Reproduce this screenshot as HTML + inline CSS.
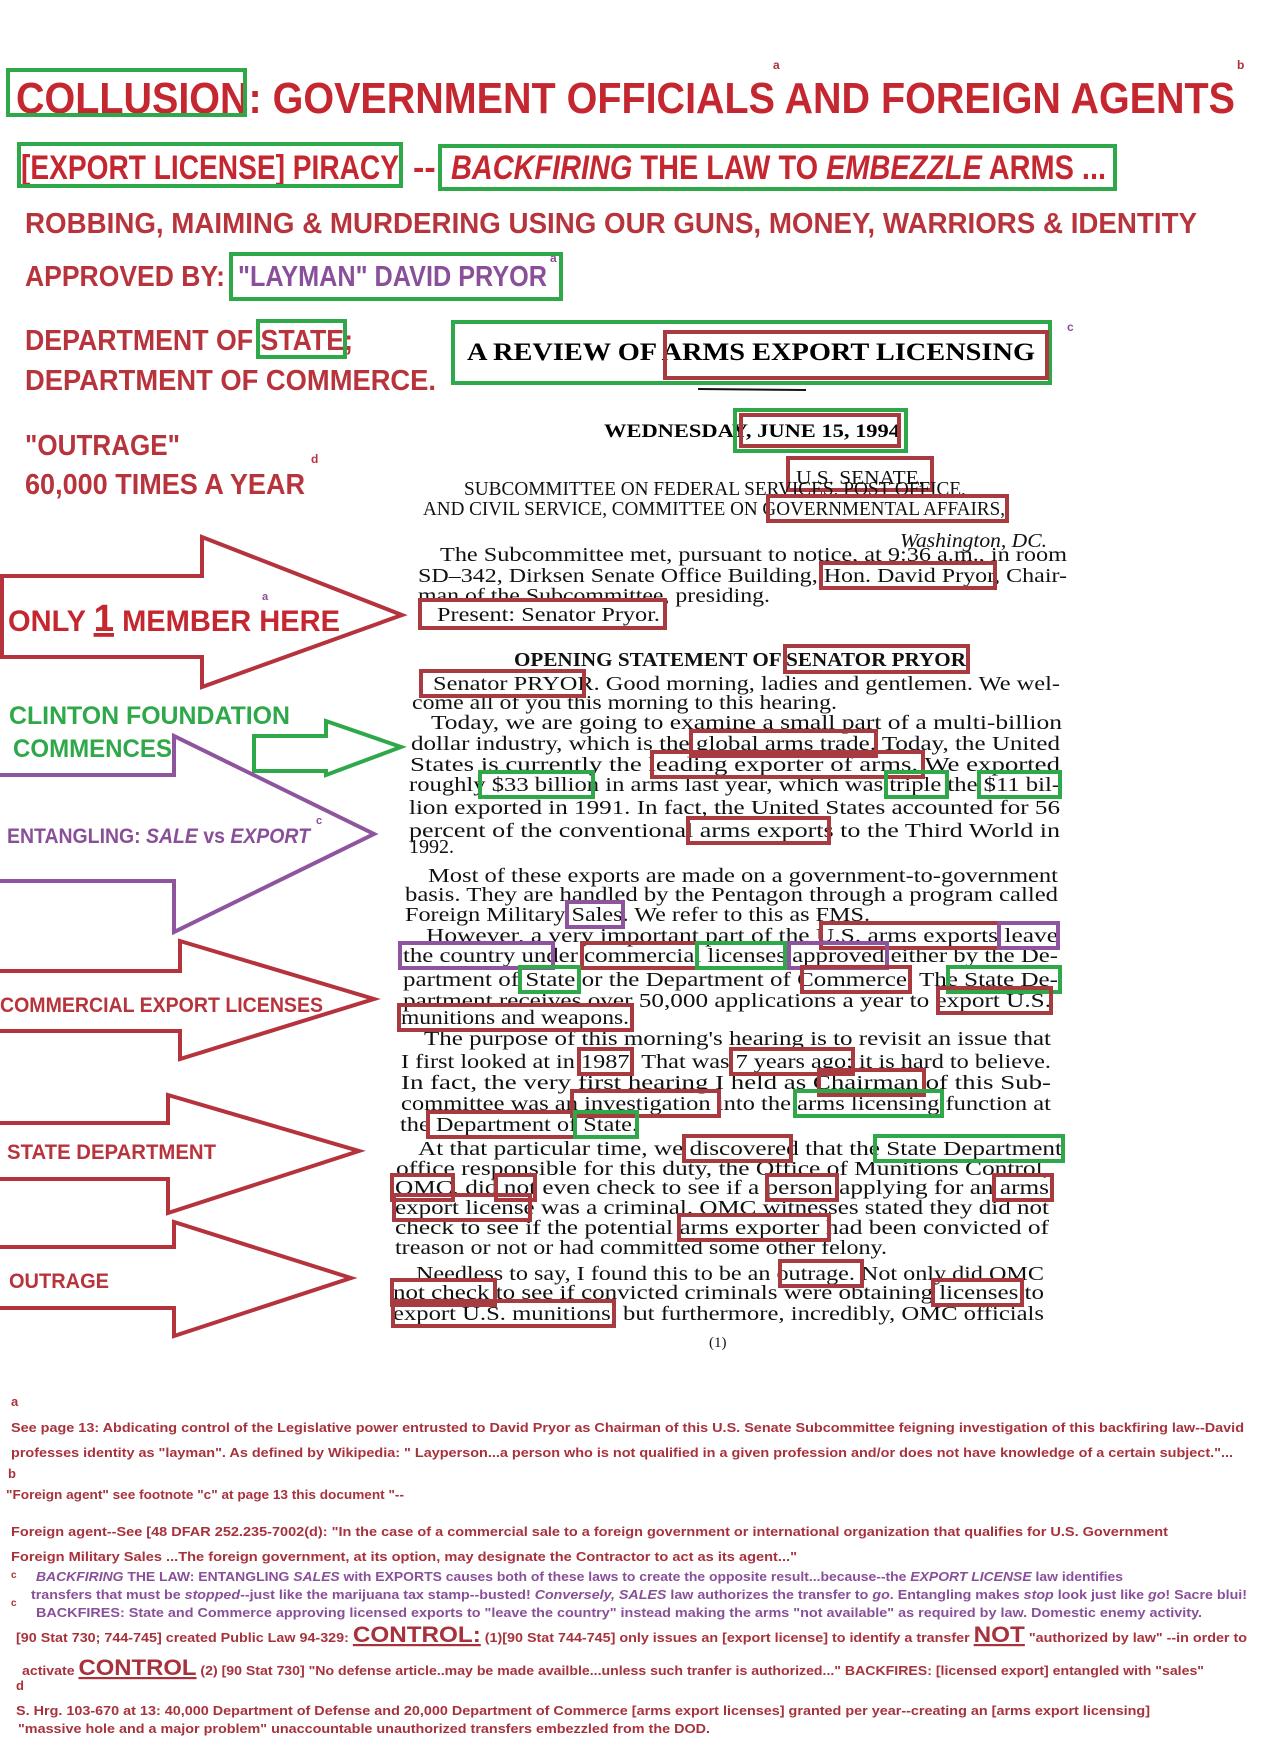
<!DOCTYPE html>
<html><head><meta charset="utf-8"><style>
html,body{margin:0;padding:0;background:#fff}
svg{display:block}
.h{font-family:"Liberation Sans Narrow","Liberation Sans",sans-serif;font-weight:bold}
.s{font-family:"Liberation Serif",serif;font-size:20px;fill:#111}
.f{font-family:"Liberation Sans Narrow","Liberation Sans",sans-serif;font-weight:bold;font-size:13px;fill:#a8323c}
.p{fill:#8a4f9a}
.bx{fill:none;stroke-width:4}
.r{stroke:#a83a40}.g{stroke:#2fa84a}.v{stroke:#8e559e}
</style></head><body>
<svg width="1275" height="1755" viewBox="0 0 1275 1755" xmlns="http://www.w3.org/2000/svg">
<rect width="1275" height="1755" fill="#fff"/>
<g class="h" fill="#c4272f">
<text x="16" y="113" font-size="44" textLength="1219" lengthAdjust="spacingAndGlyphs">COLLUSION: GOVERNMENT OFFICIALS AND FOREIGN AGENTS</text>
<text x="773" y="69" font-size="12" fill="#a8323c">a</text><text x="1237" y="69" font-size="12" fill="#a8323c">b</text>
</g>
<rect class="bx g" x="8" y="70" width="237" height="45"/>
<g class="h" fill="#c4272f" font-size="34">
<text x="21" y="179" textLength="378" lengthAdjust="spacingAndGlyphs">[EXPORT LICENSE] PIRACY</text>
<text x="413" y="179">--</text>
<text x="451" y="179" textLength="655" lengthAdjust="spacingAndGlyphs"><tspan font-style="italic">BACKFIRING</tspan> THE LAW TO <tspan font-style="italic">EMBEZZLE</tspan> ARMS ...</text>
</g>
<rect class="bx g" x="19" y="144" width="382" height="42"/>
<rect class="bx g" x="440" y="146" width="675" height="43"/>
<text class="h" x="25" y="233" font-size="29" fill="#b8343c" textLength="1172" lengthAdjust="spacingAndGlyphs">ROBBING, MAIMING &amp; MURDERING USING OUR GUNS, MONEY, WARRIORS &amp; IDENTITY</text>
<text class="h" x="25" y="286" font-size="29" fill="#b8343c" textLength="200" lengthAdjust="spacingAndGlyphs">APPROVED BY:</text>
<text class="h" x="238" y="286" font-size="29" fill="#8a4f9a" textLength="309" lengthAdjust="spacingAndGlyphs">"LAYMAN" DAVID PRYOR</text>
<text x="550" y="262" class="h" font-size="12" fill="#8a4f9a">a</text>
<rect class="bx g" x="231" y="254" width="330" height="45"/>
<g class="h" font-size="29" fill="#b8343c">
<text x="25" y="350" textLength="328" lengthAdjust="spacingAndGlyphs">DEPARTMENT OF STATE;</text>
<text x="25" y="390" textLength="411" lengthAdjust="spacingAndGlyphs">DEPARTMENT OF COMMERCE.</text>
<text x="25" y="455" textLength="155" lengthAdjust="spacingAndGlyphs">"OUTRAGE"</text>
<text x="25" y="494" textLength="280" lengthAdjust="spacingAndGlyphs">60,000 TIMES A YEAR</text>
<text x="311" y="463" font-size="12">d</text>
</g>
<rect class="bx g" x="258" y="321" width="87" height="36"/>
<rect class="bx g" x="453" y="322" width="597" height="61"/>
<text x="467" y="360" font-family="Liberation Serif,serif" font-weight="bold" font-size="25" textLength="568" lengthAdjust="spacingAndGlyphs">A REVIEW OF ARMS EXPORT LICENSING</text>
<rect class="bx r" x="665" y="332" width="382" height="46"/>
<text x="1067" y="331" class="h" font-size="12" fill="#8a4f9a">c</text>
<line x1="698" y1="389" x2="806" y2="390" stroke="#111" stroke-width="2"/>
<text x="604" y="437" font-family="Liberation Serif,serif" font-weight="bold" font-size="19" textLength="296" lengthAdjust="spacingAndGlyphs">WEDNESDAY, JUNE 15, 1994</text>
<rect class="bx g" x="735" y="410" width="171" height="41"/><rect class="bx r" x="741" y="415" width="158" height="31" stroke-width="3"/>
<text x="796" y="484" class="s" font-size="19" textLength="128" lengthAdjust="spacingAndGlyphs">U.S. SENATE,</text>
<rect class="bx r" x="788" y="458" width="144" height="32"/>
<g class="s">
<text x="464" y="495" textLength="502" lengthAdjust="spacingAndGlyphs">SUBCOMMITTEE ON FEDERAL SERVICES, POST OFFICE,</text>
<text x="423" y="515" textLength="582" lengthAdjust="spacingAndGlyphs">AND CIVIL SERVICE, COMMITTEE ON GOVERNMENTAL AFFAIRS,</text>
<text x="900" y="547" font-style="italic" textLength="147" lengthAdjust="spacingAndGlyphs">Washington, DC.</text>
<text x="440" y="561" textLength="627" lengthAdjust="spacingAndGlyphs">The Subcommittee met, pursuant to notice, at 9:36 a.m., in room</text>
<text x="418" y="582" textLength="649" lengthAdjust="spacingAndGlyphs">SD–342, Dirksen Senate Office Building, Hon. David Pryor, Chair-</text>
<text x="418" y="602" textLength="352" lengthAdjust="spacingAndGlyphs">man of the Subcommittee, presiding.</text>
<text x="437" y="621" textLength="223" lengthAdjust="spacingAndGlyphs">Present: Senator Pryor.</text>
<text x="514" y="666" font-weight="bold" textLength="452" lengthAdjust="spacingAndGlyphs">OPENING STATEMENT OF SENATOR PRYOR</text>
<text x="433" y="690" textLength="627" lengthAdjust="spacingAndGlyphs">Senator PRYOR. Good morning, ladies and gentlemen. We wel-</text>
<text x="412" y="709" textLength="425" lengthAdjust="spacingAndGlyphs">come all of you this morning to this hearing.</text>
<text x="431" y="729" textLength="631" lengthAdjust="spacingAndGlyphs">Today, we are going to examine a small part of a multi-billion</text>
<text x="411" y="750" textLength="649" lengthAdjust="spacingAndGlyphs">dollar industry, which is the global arms trade. Today, the United</text>
<text x="410" y="771" textLength="650" lengthAdjust="spacingAndGlyphs">States is currently the leading exporter of arms. We exported</text>
<text x="409" y="791" textLength="651" lengthAdjust="spacingAndGlyphs">roughly $33 billion in arms last year, which was triple the $11 bil-</text>
<text x="409" y="814" textLength="651" lengthAdjust="spacingAndGlyphs">lion exported in 1991. In fact, the United States accounted for 56</text>
<text x="409" y="837" textLength="651" lengthAdjust="spacingAndGlyphs">percent of the conventional arms exports to the Third World in</text>
<text x="409" y="853">1992.</text>
<text x="428" y="882" textLength="630" lengthAdjust="spacingAndGlyphs">Most of these exports are made on a government-to-government</text>
<text x="405" y="901" textLength="653" lengthAdjust="spacingAndGlyphs">basis. They are handled by the Pentagon through a program called</text>
<text x="405" y="921" textLength="465" lengthAdjust="spacingAndGlyphs">Foreign Military Sales. We refer to this as FMS.</text>
<text x="426" y="942" textLength="632" lengthAdjust="spacingAndGlyphs">However, a very important part of the U.S. arms exports leave</text>
<text x="403" y="962" textLength="655" lengthAdjust="spacingAndGlyphs">the country under commercial licenses approved either by the De-</text>
<text x="403" y="986" textLength="655" lengthAdjust="spacingAndGlyphs">partment of State or the Department of Commerce. The State De-</text>
<text x="403" y="1007" textLength="648" lengthAdjust="spacingAndGlyphs">partment receives over 50,000 applications a year to export U.S.</text>
<text x="401" y="1024" textLength="228" lengthAdjust="spacingAndGlyphs">munitions and weapons.</text>
<text x="424" y="1045" textLength="627" lengthAdjust="spacingAndGlyphs">The purpose of this morning's hearing is to revisit an issue that</text>
<text x="401" y="1068" textLength="650" lengthAdjust="spacingAndGlyphs">I first looked at in 1987. That was 7 years ago; it is hard to believe.</text>
<text x="401" y="1089" textLength="650" lengthAdjust="spacingAndGlyphs">In fact, the very first hearing I held as Chairman of this Sub-</text>
<text x="401" y="1110" textLength="650" lengthAdjust="spacingAndGlyphs">committee was an investigation into the arms licensing function at</text>
<text x="400" y="1131" textLength="238" lengthAdjust="spacingAndGlyphs">the Department of State.</text>
<text x="418" y="1155" textLength="644" lengthAdjust="spacingAndGlyphs">At that particular time, we discovered that the State Department</text>
<text x="396" y="1175" textLength="653" lengthAdjust="spacingAndGlyphs">office responsible for this duty, the Office of Munitions Control,</text>
<text x="395" y="1194" textLength="654" lengthAdjust="spacingAndGlyphs">OMC, did not even check to see if a person applying for an arms</text>
<text x="395" y="1214" textLength="654" lengthAdjust="spacingAndGlyphs">export license was a criminal. OMC witnesses stated they did not</text>
<text x="395" y="1234" textLength="654" lengthAdjust="spacingAndGlyphs">check to see if the potential arms exporter had been convicted of</text>
<text x="395" y="1254" textLength="492" lengthAdjust="spacingAndGlyphs">treason or not or had committed some other felony.</text>
<text x="416" y="1280" textLength="628" lengthAdjust="spacingAndGlyphs">Needless to say, I found this to be an outrage. Not only did OMC</text>
<text x="393" y="1299" textLength="651" lengthAdjust="spacingAndGlyphs">not check to see if convicted criminals were obtaining licenses to</text>
<text x="393" y="1320" textLength="651" lengthAdjust="spacingAndGlyphs">export U.S. munitions, but furthermore, incredibly, OMC officials</text>
<text x="709" y="1347" font-size="15">(1)</text>
</g>
<g>
<rect class="bx r" x="768" y="496" width="239" height="25"/>
<rect class="bx r" x="821" y="563" width="174" height="25"/>
<rect class="bx r" x="420" y="600" width="245" height="28"/>
<rect class="bx r" x="785" y="646" width="183" height="26"/>
<rect class="bx r" x="421" y="671" width="163" height="25"/>
<rect class="bx r" x="691" y="731" width="185" height="25"/>
<rect class="bx r" x="652" y="752" width="271" height="25"/>
<rect class="bx g" x="480" y="772" width="113" height="25"/>
<rect class="bx g" x="886" y="772" width="61" height="25"/>
<rect class="bx g" x="979" y="772" width="81" height="25"/>
<rect class="bx r" x="688" y="818" width="141" height="25"/>
<rect class="bx v" x="567" y="902" width="56" height="25"/>
<rect class="bx r" x="821" y="923" width="178" height="25"/>
<rect class="bx v" x="999" y="923" width="59" height="25"/>
<rect class="bx v" x="400" y="943" width="153" height="25"/>
<rect class="bx r" x="582" y="943" width="115" height="25"/>
<rect class="bx g" x="697" y="943" width="88" height="25"/>
<rect class="bx v" x="789" y="943" width="98" height="25"/>
<rect class="bx g" x="520" y="967" width="59" height="25"/>
<rect class="bx r" x="802" y="967" width="108" height="25"/>
<rect class="bx g" x="948" y="967" width="112" height="25"/>
<rect class="bx r" x="938" y="988" width="113" height="25"/>
<rect class="bx r" x="399" y="1005" width="233" height="25"/>
<rect class="bx r" x="579" y="1049" width="53" height="25"/>
<rect class="bx r" x="731" y="1049" width="122" height="25"/>
<rect class="bx r" x="819" y="1070" width="105" height="25"/>
<rect class="bx r" x="572" y="1091" width="147" height="25"/>
<rect class="bx g" x="795" y="1091" width="147" height="25"/>
<rect class="bx r" x="428" y="1112" width="147" height="25"/>
<rect class="bx g" x="575" y="1112" width="62" height="25"/>
<rect class="bx r" x="684" y="1136" width="107" height="25"/>
<rect class="bx g" x="875" y="1136" width="188" height="25"/>
<rect class="bx r" x="392" y="1175" width="61" height="25"/>
<rect class="bx r" x="496" y="1175" width="39" height="25"/>
<rect class="bx r" x="767" y="1175" width="70" height="25"/>
<rect class="bx r" x="994" y="1175" width="58" height="25"/>
<rect class="bx r" x="394" y="1195" width="136" height="25"/>
<rect class="bx r" x="679" y="1215" width="150" height="25"/>
<rect class="bx r" x="780" y="1261" width="82" height="25"/>
<rect class="bx r" x="392" y="1280" width="103" height="25"/>
<rect class="bx r" x="933" y="1280" width="89" height="25"/>
<rect class="bx r" x="393" y="1301" width="221" height="25"/>
</g>
<g fill="none" stroke-width="4" stroke-linejoin="miter">
<polygon stroke="#b5333d" points="2,576 202,576 202,537 402,615 202,687 202,657 2,657"/>
<polygon stroke="#2fa84a" points="254,736 326,736 326,721 401,747 326,775 326,771 254,771"/>
<polyline stroke="#8e559e" points="0,775 174,775 174,736 374,834 174,932 174,881 0,881"/>
<polyline stroke="#b5333d" points="0,971 180,971 180,941 374,999 180,1059 180,1031 0,1031"/>
<polyline stroke="#b5333d" points="0,1123 168,1123 168,1095 359,1151 168,1213 168,1179 0,1179"/>
<polyline stroke="#b5333d" points="0,1247 174,1247 174,1222 351,1278 174,1336 174,1308 0,1308"/>
</g>
<g class="h">
<text x="8" y="631" font-size="30" fill="#c4272f" textLength="332" lengthAdjust="spacingAndGlyphs">ONLY <tspan text-decoration="underline" font-size="38">1</tspan> MEMBER HERE</text>
<text x="262" y="600" font-size="11" fill="#8a4f9a">a</text>
<text x="9" y="724" font-size="25" fill="#2fa84a" textLength="281" lengthAdjust="spacingAndGlyphs">CLINTON FOUNDATION</text>
<text x="13" y="757" font-size="25" fill="#2fa84a" textLength="159" lengthAdjust="spacingAndGlyphs">COMMENCES</text>
<text x="7" y="843" font-size="21" fill="#8a4f9a" textLength="303" lengthAdjust="spacingAndGlyphs">ENTANGLING: <tspan font-style="italic">SALE</tspan> vs <tspan font-style="italic">EXPORT</tspan></text>
<text x="316" y="824" font-size="11" fill="#8a4f9a">c</text>
<text x="0" y="1012" font-size="21" fill="#b8343c" textLength="323" lengthAdjust="spacingAndGlyphs">COMMERCIAL EXPORT LICENSES</text>
<text x="7" y="1159" font-size="21" fill="#b8343c" textLength="209" lengthAdjust="spacingAndGlyphs">STATE DEPARTMENT</text>
<text x="9" y="1288" font-size="21" fill="#b8343c" textLength="100" lengthAdjust="spacingAndGlyphs">OUTRAGE</text>
</g>
<g class="f">
<text x="11" y="1406">a</text>
<text x="11" y="1432" textLength="1233" lengthAdjust="spacingAndGlyphs">See page 13: Abdicating control of the Legislative power entrusted to David Pryor as Chairman of this U.S. Senate Subcommittee feigning investigation of this backfiring law--David</text>
<text x="11" y="1457" textLength="1222" lengthAdjust="spacingAndGlyphs">professes identity as "layman". As defined by Wikipedia: " Layperson...a person who is not qualified in a given profession and/or does not have knowledge of a certain subject."...</text>
<text x="8" y="1478">b</text>
<text x="6" y="1499" textLength="398" lengthAdjust="spacingAndGlyphs">"Foreign agent" see footnote "c" at page 13 this document "--</text>
<text x="11" y="1536" textLength="1157" lengthAdjust="spacingAndGlyphs">Foreign agent--See [48 DFAR 252.235-7002(d): "In the case of a commercial sale to a foreign government or international organization that qualifies for U.S. Government</text>
<text x="11" y="1561" textLength="786" lengthAdjust="spacingAndGlyphs">Foreign Military Sales ...The foreign government, at its option, may designate the Contractor to act as its agent..."</text>
<text x="11" y="1578" font-size="10">c</text>
<text x="11" y="1606" font-size="10">c</text>
<text class="p" x="36" y="1581" textLength="1087" lengthAdjust="spacingAndGlyphs"><tspan font-style="italic">BACKFIRING</tspan> THE LAW: ENTANGLING <tspan font-style="italic">SALES</tspan> with EXPORTS causes both of these laws to create the opposite result...because--the <tspan font-style="italic">EXPORT LICENSE</tspan> law identifies</text>
<text class="p" x="31" y="1599" textLength="1216" lengthAdjust="spacingAndGlyphs">transfers that must be <tspan font-style="italic">stopped</tspan>--just like the marijuana tax stamp--busted! <tspan font-style="italic">Conversely, SALES</tspan> law authorizes the transfer to <tspan font-style="italic">go</tspan>. Entangling makes <tspan font-style="italic">stop</tspan> look just like <tspan font-style="italic">go</tspan>! Sacre blui!</text>
<text class="p" x="36" y="1617" textLength="1166" lengthAdjust="spacingAndGlyphs">BACKFIRES: State and Commerce approving licensed exports to "leave the country" instead making the arms "not available" as required by law. Domestic enemy activity.</text>
<text x="16" y="1642" textLength="1231" lengthAdjust="spacingAndGlyphs">[90 Stat 730; 744-745] created Public Law 94-329: <tspan font-size="22" text-decoration="underline">CONTROL:</tspan> (1)[90 Stat 744-745] only issues an [export license] to identify a transfer <tspan font-size="22" text-decoration="underline">NOT</tspan> "authorized by law" --in order to</text>
<text x="22" y="1675" textLength="1182" lengthAdjust="spacingAndGlyphs">activate <tspan font-size="22" text-decoration="underline">CONTROL</tspan> (2) [90 Stat 730] "No defense article..may be made availble...unless such tranfer is authorized..." BACKFIRES: [licensed export] entangled with "sales"</text>
<text x="16" y="1690">d</text>
<text x="16" y="1715" textLength="1134" lengthAdjust="spacingAndGlyphs">S. Hrg. 103-670 at 13: 40,000 Department of Defense and 20,000 Department of Commerce [arms export licenses] granted per year--creating an [arms export licensing]</text>
<text x="18" y="1733" textLength="692" lengthAdjust="spacingAndGlyphs">"massive hole and a major problem" unaccountable unauthorized transfers embezzled from the DOD.</text>
</g>
</svg>
</body></html>
